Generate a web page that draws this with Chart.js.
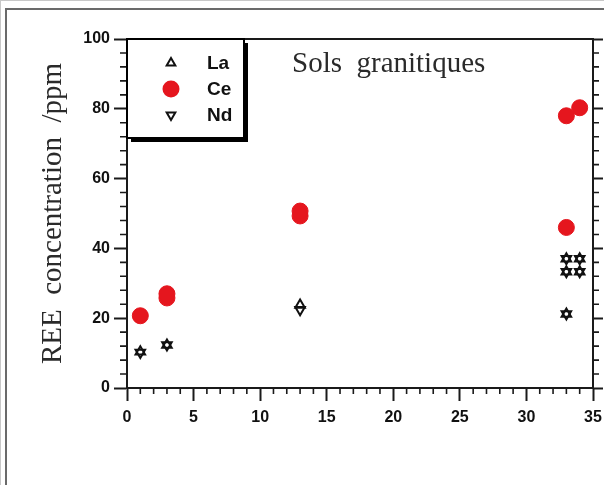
<!DOCTYPE html>
<html>
<head>
<meta charset="utf-8">
<title>Sols granitiques</title>
<script src="https://cdn.jsdelivr.net/npm/chart.js@4/dist/chart.umd.min.js"></script>
<style>
    html, body { margin: 0; padding: 0; background: #fff; }
    #page {
        position: relative; width: 604px; height: 485px; overflow: hidden;
        box-sizing: border-box;
        border-left: 1px solid #c8c8c8; border-top: 1px solid #c8c8c8;
    }
    #frame {
        position: absolute; left: 4px; top: 7px; width: 640px; height: 520px;
        border-left: 2px solid #6a6a6a; border-top: 2px solid #6a6a6a;
    }
    #chart-wrap { position: absolute; left: -1px; top: -1px; width: 604px; height: 485px; }
</style>
</head>
<body>
<div id="page">
    <div id="frame"></div>
    <div id="chart-wrap"><canvas id="ree-chart" width="604" height="485"></canvas></div>
</div>
<script>
// Tick labels
const xTicks = [0, 5, 10, 15, 20, 25, 30, 35];
const yTicks = [0, 20, 40, 60, 80, 100];

// Distance (x) and REE concentrations (ppm)
const laX = [1, 3, 13, 33, 33, 33, 34, 34];
const laY = [10.4, 12.3, 23.8, 21.2, 33.3, 37, 33.3, 37];
const ndX = [1, 3, 13, 33, 33, 33, 34, 34];
const ndY = [10.2, 12.3, 22.4, 21.2, 33.3, 37, 33.3, 37];
const ceX = [1, 3, 3, 13, 13, 33, 33, 34];
const ceY = [20.7, 25.8, 27, 49.3, 50.7, 46, 78, 80.3];

const seriesNames = ['La', 'Ce', 'Nd'];
const chartTitle = 'Sols  granitiques';
const yTitle = 'REE  concentration  /ppm';

const AXIS = '#1a1a1a';
const RED = '#e5161e';
const TICK_FONT = { family: "'Liberation Sans', Arial, sans-serif", size: 16, weight: 'bold' };
const SERIF = "'Liberation Serif', 'Times New Roman', serif";

const toPoints = (xs, ys) => xs.map((x, i) => ({ x: x, y: ys[i] }));

// minor ticks, legend box and the title inside the plot
const decorations = {
    id: 'decorations',
    afterDraw(chart) {
        const { ctx, chartArea: a, scales } = chart;
        const x = scales.x, y = scales.y;
        ctx.save();

        // minor ticks
        ctx.strokeStyle = AXIS;
        ctx.lineWidth = 1.6;
        ctx.beginPath();
        for (let v = 0; v <= 35; v++) {
            if (v % 5 === 0) continue;
            const px = x.getPixelForValue(v);
            ctx.moveTo(px, a.bottom); ctx.lineTo(px, a.bottom + 6);
        }
        for (let v = 0; v <= 100; v += 4) {
            if (v % 20 === 0) continue;
            const py = y.getPixelForValue(v);
            ctx.moveTo(a.left - 7, py); ctx.lineTo(a.left, py);
            ctx.moveTo(a.right, py); ctx.lineTo(a.right + 6, py);
        }
        ctx.stroke();

        // legend box with drop shadow
        const bx = a.left, by = a.top, bw = 117, bh = 99;
        ctx.fillStyle = '#000';
        ctx.fillRect(bx + 4, by + 4, bw, bh);
        ctx.fillStyle = '#fff';
        ctx.fillRect(bx, by, bw, bh);
        ctx.lineWidth = 2;
        ctx.strokeStyle = '#000';
        ctx.strokeRect(bx, by, bw, bh);

        const rows = [
            { style: 'triangle', rot: 0, r: 5, fill: 'rgba(0,0,0,0)', stroke: '#111', y: 63 },
            { style: 'circle', rot: 0, r: 7.5, fill: RED, stroke: RED, y: 89 },
            { style: 'triangle', rot: 180, r: 5, fill: 'rgba(0,0,0,0)', stroke: '#111', y: 115 }
        ];
        ctx.font = "bold 19px 'Liberation Sans', Arial, sans-serif";
        ctx.textBaseline = 'middle';
        ctx.textAlign = 'left';
        rows.forEach((row, i) => {
            ctx.fillStyle = row.fill;
            ctx.strokeStyle = row.stroke;
            Chart.helpers.drawPoint(ctx, {
                pointStyle: row.style, radius: row.r, rotation: row.rot, borderWidth: 2
            }, 171, row.y);
            ctx.fillStyle = '#111';
            ctx.fillText(seriesNames[i], 207, row.y + 1);
        });

        // title inside the plot
        ctx.font = '29px ' + SERIF;
        ctx.fillStyle = '#2a2a2a';
        ctx.textBaseline = 'alphabetic';
        ctx.fillText(chartTitle, 292, 72);

        ctx.restore();
    }
};

const tickGrid = (len) => ({
    drawOnChartArea: false,
    drawTicks: true,
    tickLength: len,
    tickWidth: 2,
    tickColor: AXIS
});

new Chart(document.getElementById('ree-chart'), {
    type: 'scatter',
    data: {
        datasets: [
            {
                label: 'Ce',
                data: toPoints(ceX, ceY),
                pointStyle: 'circle',
                pointRadius: 8,
                backgroundColor: RED,
                borderColor: RED,
                borderWidth: 1
            },
            {
                label: 'La',
                data: toPoints(laX, laY),
                pointStyle: 'triangle',
                pointRadius: 5.5,
                backgroundColor: 'rgba(0,0,0,0)',
                borderColor: '#111',
                borderWidth: 2
            },
            {
                label: 'Nd',
                data: toPoints(ndX, ndY),
                pointStyle: 'triangle',
                pointRotation: 180,
                pointRadius: 5.5,
                backgroundColor: 'rgba(0,0,0,0)',
                borderColor: '#111',
                borderWidth: 2
            }
        ]
    },
    options: {
        responsive: false,
        animation: false,
        events: [],
        clip: false,
        layout: { padding: 0 },
        plugins: {
            legend: { display: false },
            tooltip: { enabled: false }
        },
        scales: {
            x: {
                type: 'linear',
                position: 'bottom',
                min: 0,
                max: 35,
                afterBuildTicks: s => { s.ticks = xTicks.map(v => ({ value: v })); },
                afterFit: s => { s.height = 97; s.paddingLeft = 0; s.paddingRight = 0; },
                grid: tickGrid(13),
                border: { display: true, width: 2, color: AXIS },
                ticks: { font: TICK_FONT, color: '#111', padding: 7, maxRotation: 0, autoSkip: false }
            },
            xTop: {
                type: 'linear',
                position: 'top',
                min: 0,
                max: 35,
                afterFit: s => { s.height = 39; },
                grid: { drawOnChartArea: false, drawTicks: false },
                border: { display: true, width: 2, color: AXIS },
                ticks: { display: false }
            },
            y: {
                type: 'linear',
                position: 'left',
                min: 0,
                max: 100,
                afterBuildTicks: s => { s.ticks = yTicks.map(v => ({ value: v })); },
                afterFit: s => { s.width = 127; s.paddingTop = 0; s.paddingBottom = 0; },
                grid: tickGrid(13),
                border: { display: true, width: 2, color: AXIS },
                ticks: { font: TICK_FONT, color: '#111', padding: 4 },
                title: {
                    display: true,
                    text: yTitle,
                    color: '#2a2a2a',
                    font: { family: SERIF, size: 29 },
                    padding: { top: 36, bottom: 0 }
                }
            },
            yRight: {
                type: 'linear',
                position: 'right',
                min: 0,
                max: 100,
                afterBuildTicks: s => { s.ticks = yTicks.map(v => ({ value: v })); },
                afterFit: s => { s.width = 11; },
                grid: tickGrid(10),
                border: { display: true, width: 2, color: AXIS },
                ticks: { display: false }
            }
        }
    },
    plugins: [decorations]
});
</script>
</body>
</html>
